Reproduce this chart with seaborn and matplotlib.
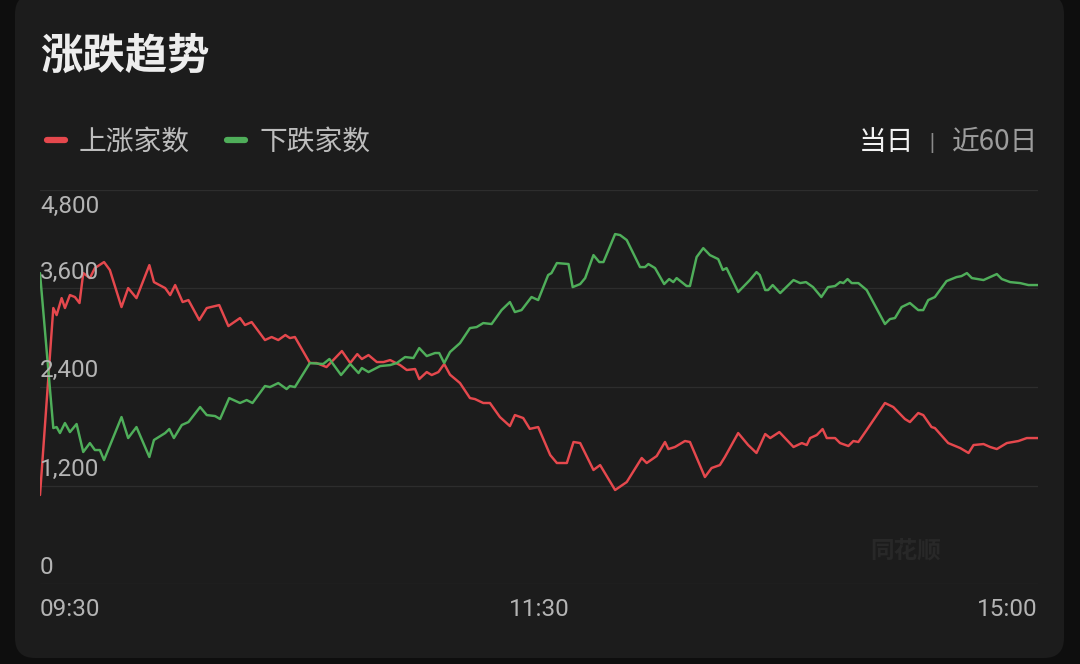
import numpy as np
import pandas as pd
import seaborn as sns
import matplotlib.pyplot as plt
from matplotlib.patches import FancyBboxPatch
from matplotlib.transforms import IdentityTransform

# 交易分钟 (0 = 09:30, 120 = 11:30/13:00, 240 = 15:00)
up_minutes = [0, 3.2, 4.0, 5.2, 6.0, 7.2, 8.4, 9.5, 10.4, 12.0, 13.2, 15.4, 16.8, 19.6, 21.2,
              23.2, 26.3, 27.4, 30.1, 31.3, 32.5, 34.3, 35.7, 38.3, 40.1, 43.1, 45.3, 48.1,
              49.3, 50.9, 54.1, 55.7, 57.3, 59.0, 60.1, 61.3, 64.9, 66.5, 68.9, 72.6, 74.6,
              76.3, 77.4, 79.0, 81.0, 82.6, 84.2, 86.6, 88.2, 90.2, 91.2, 93.0, 94.2, 95.8,
              97.2, 98.6, 101.0, 103.4, 104.6, 106.6, 108.2, 110.6, 113.0, 114.2, 116.2,
              117.8, 119.8, 122.7, 124.3, 126.7, 128.3, 129.9, 133.1, 134.7, 138.3, 141.1,
              144.7, 145.9, 148.3, 150.3, 151.1, 152.7, 155.1, 156.3, 159.9, 161.5, 163.5,
              164.7, 167.9, 170.3, 172.3, 174.4, 175.6, 177.8, 181.2, 183.2, 184.4, 185.2,
              186.8, 188.2, 189.2, 191.2, 192.4, 194.4, 195.6, 196.8, 198.8, 203.2, 205.2,
              208.0, 209.2, 211.2, 212.4, 214.4, 215.2, 218.4, 221.3, 223.3, 224.5, 226.9,
              228.5, 230.1, 232.5, 235.3, 237.3, 240]
up_counts = [1084, 3362, 3276, 3483, 3362, 3520, 3496, 3423, 3788, 3727, 3849, 3922, 3825, 3374,
             3605, 3483, 3885, 3678, 3605, 3520, 3642, 3435, 3459, 3216, 3362, 3398, 3142,
             3240, 3155, 3191, 2972, 3009, 2972, 3033, 2996, 3009, 2692, 2692, 2643, 2838,
             2692, 2801, 2741, 2789, 2704, 2704, 2728, 2667, 2607, 2619, 2497, 2582, 2546,
             2582, 2680, 2550, 2448, 2265, 2253, 2205, 2205, 2034, 1924, 2058, 2022, 1890,
             1912, 1571, 1474, 1474, 1730, 1717, 1389, 1449, 1145, 1242, 1535, 1474, 1559,
             1730, 1644, 1669, 1742, 1730, 1303, 1413, 1449, 1547, 1839, 1693, 1596, 1827,
             1778, 1851, 1669, 1717, 1693, 1778, 1815, 1888, 1778, 1778, 1717, 1681, 1742,
             1730, 1876, 2205, 2156, 2010, 1973, 2083, 2058, 1912, 1900, 1717, 1656, 1596,
             1693, 1705, 1669, 1644, 1717, 1742, 1778, 1778]

down_minutes = [0, 3.2, 4.0, 4.8, 6.0, 7.2, 8.8, 10.4, 12.0, 13.2, 14.4, 15.4, 19.6, 21.2, 23.2,
                26.3, 27.4, 30.1, 31.1, 32.2, 34.1, 35.7, 38.5, 40.1, 42.1, 43.3, 45.5, 48.1,
                49.7, 51.1, 54.1, 55.3, 57.3, 59.3, 60.1, 61.3, 64.9, 68.1, 69.6, 72.4, 74.6,
                76.6, 77.4, 79.0, 81.8, 84.2, 85.8, 87.8, 89.8, 91.2, 93.0, 95.0, 96.0, 97.2,
                98.6, 101.0, 103.4, 105.0, 106.6, 108.6, 111.0, 113.0, 114.2, 115.8, 118.2,
                119.8, 122.2, 123.0, 124.3, 127.1, 128.1, 129.9, 131.1, 133.1, 134.5, 135.5,
                138.3, 139.5, 141.1, 144.3, 145.5, 146.3, 147.9, 150.1, 151.3, 152.3, 153.1,
                155.5, 156.3, 157.9, 159.5, 161.1, 163.1, 164.2, 165.1, 167.9, 170.7, 172.3,
                173.1, 174.4, 175.1, 176.2, 178.0, 181.2, 182.8, 184.2, 185.9, 187.9, 189.5,
                191.2, 192.4, 193.2, 194.2, 195.2, 196.8, 198.8, 203.2, 204.4, 205.6, 207.2,
                209.2, 211.2, 212.4, 213.6, 215.2, 218.0, 220.4, 221.6, 222.9, 224.1, 226.9,
                228.5, 230.1, 231.3, 233.3, 235.7, 237.7, 240]
down_counts = [3788, 1900, 1912, 1839, 1961, 1851, 1949, 1608, 1717, 1632, 1632, 1510, 2034, 1778,
               1912, 1547, 1754, 1839, 1888, 1778, 1937, 1973, 2156, 2058, 2046, 2010, 2265,
               2205, 2241, 2205, 2412, 2399, 2448, 2375, 2412, 2399, 2692, 2680, 2741, 2546,
               2680, 2570, 2631, 2582, 2655, 2667, 2692, 2765, 2753, 2874, 2777, 2814, 2814,
               2692, 2826, 2935, 3118, 3130, 3179, 3167, 3337, 3435, 3313, 3337, 3496, 3459,
               3764, 3788, 3910, 3898, 3617, 3654, 3727, 4007, 3922, 3922, 4263, 4251, 4190,
               3861, 3861, 3898, 3849, 3654, 3715, 3678, 3727, 3630, 3630, 3983, 4092, 4007,
               3958, 3825, 3849, 3557, 3703, 3800, 3764, 3581, 3581, 3642, 3544, 3703, 3666,
               3678, 3617, 3496, 3617, 3630, 3678, 3666, 3715, 3666, 3666, 3581, 3167, 3228,
               3240, 3374, 3423, 3337, 3337, 3459, 3496, 3690, 3739, 3751, 3788, 3727, 3703,
               3739, 3776, 3715, 3678, 3666, 3642, 3642]

y_ticks = [0, 1200, 2400, 3600, 4800]
y_labels = ["0", "1,200", "2,400", "3,600", "4,800"]
x_ticks = [0, 120, 240]
x_labels = ["09:30", "11:30", "15:00"]

series_up = "上涨家数"
series_down = "下跌家数"

df = pd.concat([
    pd.DataFrame({"minute": up_minutes, "count": up_counts, "series": series_up}),
    pd.DataFrame({"minute": down_minutes, "count": down_counts, "series": series_down}),
], ignore_index=True)

sns.set_theme(style="dark")
plt.rcParams["font.family"] = ["Noto Sans CJK SC", "DejaVu Sans"]

W, H = 1080, 664
fig = plt.figure(figsize=(W / 100, H / 100), dpi=100, facecolor="#0e0e0e")

# 卡片背景 (放在坐标轴下面)
card = FancyBboxPatch((15, 6), 1049, 664, boxstyle="round,pad=0,rounding_size=20",
                      transform=IdentityTransform(), facecolor="#1c1c1c", edgecolor="none",
                      zorder=-10)
fig.patches.append(card)

ax = fig.add_axes([40 / W, (H - 584) / H, 998 / W, 394 / H])
ax.set_facecolor("none")

sns.lineplot(data=df, x="minute", y="count", hue="series", estimator=None,
             palette={series_up: "#e5484d", series_down: "#4fae5a"},
             linewidth=1.75, ax=ax)

ax.set_xlim(0, 240)
ax.set_ylim(0, 4800)
ax.set_yticks(y_ticks)
ax.set_xticks(x_ticks)
ax.set_yticklabels([])
ax.set_xticklabels([])
ax.tick_params(length=0)
ax.grid(axis="y", color="#2d2d2d", linewidth=0.9)
ax.grid(axis="x", visible=False)
for s in ax.spines.values():
    s.set_visible(False)
ax.set_xlabel("")
ax.set_ylabel("")

tick_color = "#b4b4b4"
for v, lab in zip(y_ticks, y_labels):
    top = v == y_ticks[-1]
    ax.annotate(lab, xy=(0, v), xycoords=("axes fraction", "data"),
                xytext=(0, -5 if top else 5), textcoords="offset pixels",
                ha="left", va="top" if top else "bottom",
                fontsize=17.5, color=tick_color, family=["Roboto", "DejaVu Sans"])

for v, lab, ha in zip(x_ticks, x_labels, ["left", "center", "right"]):
    ax.annotate(lab, xy=(v, 0), xycoords=("data", "axes fraction"),
                xytext=(0, -25), textcoords="offset pixels",
                ha=ha, va="center", fontsize=17.5, color=tick_color,
                family=["Roboto", "DejaVu Sans"])

# 图例
sns.move_legend(ax, "center left", bbox_to_anchor=(47 / W, 1 - 142 / H),
                bbox_transform=fig.transFigure, ncol=2, frameon=False, title=None,
                fontsize=20, labelcolor="#bdbdbd", handlelength=0.65,
                handletextpad=0.5, columnspacing=1.35, borderpad=0, borderaxespad=0)
leg = ax.get_legend()
for h in leg.legend_handles:
    h.set_linewidth(4.5)
    h.set_solid_capstyle("round")

# 标题与右侧切换
fig.text(40 / W, 1 - 57 / H, "涨跌趋势", fontsize=30.5, fontweight="bold",
         color="#ededed", ha="left", va="center")
fig.text(914 / W, 1 - 142 / H, "当日", fontsize=20, color="#f2f2f2", ha="right", va="center")
fig.text(932 / W, 1 - 143 / H, "|", fontsize=12, color="#8a8a8a", ha="center", va="center",
         fontweight="bold")
fig.text(1038 / W, 1 - 142 / H, "近60日", fontsize=20, color="#9c9c9c", ha="right", va="center")

# 水印
ax.text(0.867, 0.086, "同花顺", transform=ax.transAxes, fontsize=17, fontweight="bold",
        color="#282828", ha="center", va="center", style="italic")

fig.savefig("out.png", dpi=100, facecolor=fig.get_facecolor())
